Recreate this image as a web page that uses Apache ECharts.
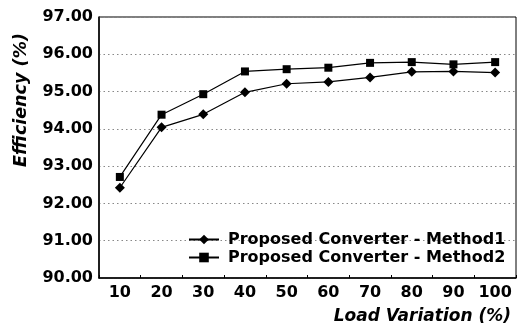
<!DOCTYPE html>
<html><head><meta charset="utf-8">
<script src="https://cdn.jsdelivr.net/npm/echarts@6/dist/echarts.min.js"></script>
<style>html,body{margin:0;padding:0;background:#fff}#c{width:517px;height:329px}</style>
</head><body><div id="c"></div>
<script>
const categories = ['10','20','30','40','50','60','70','80','90','100'];
const method1 = [92.42, 94.04, 94.39, 94.98, 95.21, 95.26, 95.38, 95.53, 95.54, 95.51];
const method2 = [92.71, 94.38, 94.93, 95.54, 95.60, 95.64, 95.77, 95.79, 95.73, 95.79];
const seriesNames = ['Proposed Converter - Method1', 'Proposed Converter - Method2'];
const yTitle = 'Efficiency (%)';
const xTitle = 'Load Variation (%)';

const FONT = 'DejaVu Sans';
const chart = echarts.init(document.getElementById('c'));
chart.setOption({
  animation: false,
  backgroundColor: '#fff',
  grid: { left: 99, right: 1, top: 17, bottom: 51, show: true, borderColor: '#000', borderWidth: 1 },
  xAxis: {
    type: 'category', data: categories, boundaryGap: true,
    axisLine: { lineStyle: { color: '#000', width: 1.5 } },
    axisTick: { show: true, inside: true, length: 3, lineStyle: { color: '#000' } },
    axisLabel: { color: '#000', fontFamily: FONT, fontWeight: 'bold', fontSize: 16, margin: 7, interval: 0 }
  },
  yAxis: {
    type: 'value', min: 90, max: 97, interval: 1,
    axisLine: { show: true, lineStyle: { color: '#000', width: 1.5 } },
    axisTick: { show: false },
    splitLine: { show: true, lineStyle: { color: '#888', type: [1.5, 3], width: 1 } },
    axisLabel: { color: '#000', fontFamily: FONT, fontWeight: 'bold', fontSize: 16, margin: 6,
      formatter: v => v.toFixed(2) }
  },
  legend: {
    orient: 'vertical', left: 183, top: 226, itemWidth: 30, itemHeight: 12, itemGap: 1,
    data: seriesNames,
    textStyle: { color: '#000', fontFamily: FONT, fontWeight: 'bold', fontSize: 16, lineHeight: 17, padding: [0,0,0,4] }
  },
  series: [
    { name: seriesNames[0], type: 'line', data: method1, symbol: 'diamond', symbolSize: 10,
      lineStyle: { color: '#000', width: 1.2 }, itemStyle: { color: '#000' } },
    { name: seriesNames[1], type: 'line', data: method2, symbol: 'rect', symbolSize: 8,
      lineStyle: { color: '#000', width: 1.2 }, itemStyle: { color: '#000' } }
  ],
  graphic: [
    { type: 'text', x: 21, y: 100, rotation: Math.PI / 2,
      style: { text: yTitle, fill: '#000', font: 'italic bold 17.5px "DejaVu Sans"', align: 'center', verticalAlign: 'middle' } },
    { type: 'text', x: 511, y: 317,
      style: { text: xTitle, fill: '#000', font: 'italic bold 17px "DejaVu Sans"', align: 'right', verticalAlign: 'middle' } }
  ]
});
</script></body></html>
